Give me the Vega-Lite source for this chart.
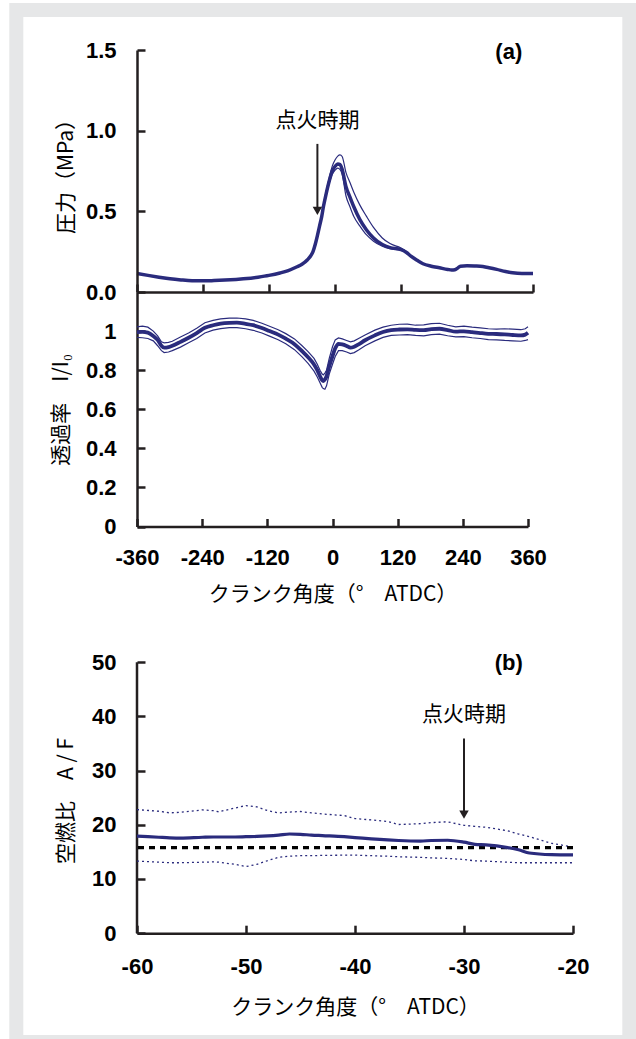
{
  "$schema": "https://vega.github.io/schema/vega-lite/v6.json",
  "background": "white",
  "padding": {"left": 9, "top": 3, "right": 0, "bottom": 0},
  "bounds": "flush",
  "spacing": 0,
  "config": {
    "view": {"stroke": null},
    "locale": {"number": {"decimal": ".", "thousands": ",", "grouping": [3], "currency": ["$", ""], "minus": "-"}},
    "axis": {
      "grid": false,
      "labelFlush": false,
      "labelOverlap": false,
      "domainColor": "#231f20",
      "domainWidth": 2.5,
      "tickColor": "#231f20",
      "tickWidth": 2.5,
      "tickSize": -8,
      "labelFont": "Liberation Sans",
      "labelFontWeight": "bold",
      "labelFontSize": 22,
      "labelColor": "#000000",
      "labelPadding": 29,
      "titleFont": "Noto Sans CJK JP",
      "titleFontWeight": "normal",
      "titleFontSize": 21,
      "titleColor": "#000000"
    }
  },
  "datasets": {
    "pressure": [
      {"deg": -360, "mean": 0.115, "upper": 0.115, "lower": 0.115},
      {"deg": -340, "mean": 0.103, "upper": 0.103, "lower": 0.103},
      {"deg": -320, "mean": 0.092, "upper": 0.092, "lower": 0.092},
      {"deg": -300, "mean": 0.082, "upper": 0.082, "lower": 0.082},
      {"deg": -280, "mean": 0.075, "upper": 0.075, "lower": 0.075},
      {"deg": -260, "mean": 0.07, "upper": 0.07, "lower": 0.07},
      {"deg": -240, "mean": 0.069, "upper": 0.069, "lower": 0.069},
      {"deg": -220, "mean": 0.071, "upper": 0.071, "lower": 0.071},
      {"deg": -200, "mean": 0.074, "upper": 0.074, "lower": 0.074},
      {"deg": -180, "mean": 0.078, "upper": 0.078, "lower": 0.078},
      {"deg": -160, "mean": 0.083, "upper": 0.083, "lower": 0.083},
      {"deg": -140, "mean": 0.092, "upper": 0.092, "lower": 0.092},
      {"deg": -120, "mean": 0.103, "upper": 0.103, "lower": 0.103},
      {"deg": -100, "mean": 0.118, "upper": 0.118, "lower": 0.118},
      {"deg": -85, "mean": 0.133, "upper": 0.133, "lower": 0.133},
      {"deg": -70, "mean": 0.155, "upper": 0.155, "lower": 0.155},
      {"deg": -60, "mean": 0.172, "upper": 0.172, "lower": 0.172},
      {"deg": -50, "mean": 0.2, "upper": 0.2, "lower": 0.2},
      {"deg": -44, "mean": 0.225, "upper": 0.225, "lower": 0.225},
      {"deg": -40, "mean": 0.25, "upper": 0.25, "lower": 0.25},
      {"deg": -36, "mean": 0.294, "upper": 0.294, "lower": 0.294},
      {"deg": -32, "mean": 0.35, "upper": 0.35, "lower": 0.35},
      {"deg": -28, "mean": 0.41, "upper": 0.41, "lower": 0.41},
      {"deg": -24, "mean": 0.47, "upper": 0.475, "lower": 0.465},
      {"deg": -21, "mean": 0.53, "upper": 0.54, "lower": 0.52},
      {"deg": -16, "mean": 0.61, "upper": 0.625, "lower": 0.6},
      {"deg": -10, "mean": 0.694, "upper": 0.715, "lower": 0.68},
      {"deg": -5, "mean": 0.75, "upper": 0.78, "lower": 0.73},
      {"deg": 0, "mean": 0.778, "upper": 0.818, "lower": 0.755},
      {"deg": 5, "mean": 0.794, "upper": 0.842, "lower": 0.768},
      {"deg": 9, "mean": 0.79, "upper": 0.85, "lower": 0.76},
      {"deg": 13, "mean": 0.76, "upper": 0.84, "lower": 0.73},
      {"deg": 20, "mean": 0.653, "upper": 0.74, "lower": 0.595},
      {"deg": 27, "mean": 0.59, "upper": 0.68, "lower": 0.53},
      {"deg": 34, "mean": 0.53, "upper": 0.62, "lower": 0.47},
      {"deg": 45, "mean": 0.45, "upper": 0.54, "lower": 0.41},
      {"deg": 57, "mean": 0.386, "upper": 0.47, "lower": 0.355},
      {"deg": 70, "mean": 0.335, "upper": 0.4, "lower": 0.315},
      {"deg": 86, "mean": 0.294, "upper": 0.335, "lower": 0.284},
      {"deg": 100, "mean": 0.275, "upper": 0.3, "lower": 0.268},
      {"deg": 120, "mean": 0.263, "upper": 0.273, "lower": 0.259},
      {"deg": 130, "mean": 0.245, "upper": 0.25, "lower": 0.243},
      {"deg": 138, "mean": 0.222, "upper": 0.222, "lower": 0.222},
      {"deg": 150, "mean": 0.195, "upper": 0.195, "lower": 0.195},
      {"deg": 160, "mean": 0.175, "upper": 0.175, "lower": 0.175},
      {"deg": 175, "mean": 0.16, "upper": 0.16, "lower": 0.16},
      {"deg": 190, "mean": 0.15, "upper": 0.15, "lower": 0.15},
      {"deg": 205, "mean": 0.14, "upper": 0.14, "lower": 0.14},
      {"deg": 212, "mean": 0.136, "upper": 0.136, "lower": 0.136},
      {"deg": 218, "mean": 0.138, "upper": 0.138, "lower": 0.138},
      {"deg": 223, "mean": 0.148, "upper": 0.148, "lower": 0.148},
      {"deg": 228, "mean": 0.16, "upper": 0.16, "lower": 0.16},
      {"deg": 240, "mean": 0.162, "upper": 0.162, "lower": 0.162},
      {"deg": 255, "mean": 0.161, "upper": 0.161, "lower": 0.161},
      {"deg": 264, "mean": 0.16, "upper": 0.16, "lower": 0.16},
      {"deg": 280, "mean": 0.15, "upper": 0.15, "lower": 0.15},
      {"deg": 294, "mean": 0.14, "upper": 0.14, "lower": 0.14},
      {"deg": 310, "mean": 0.127, "upper": 0.127, "lower": 0.127},
      {"deg": 323, "mean": 0.119, "upper": 0.119, "lower": 0.119},
      {"deg": 340, "mean": 0.115, "upper": 0.115, "lower": 0.115},
      {"deg": 360, "mean": 0.115, "upper": 0.115, "lower": 0.115}
    ],
    "trans": [
      {"deg": -360, "mean": 0.995, "upper": 1.022, "lower": 0.968},
      {"deg": -350, "mean": 0.996, "upper": 1.025, "lower": 0.966},
      {"deg": -340, "mean": 0.992, "upper": 1.02, "lower": 0.962},
      {"deg": -330, "mean": 0.975, "upper": 1.0, "lower": 0.95},
      {"deg": -322, "mean": 0.955, "upper": 0.975, "lower": 0.925},
      {"deg": -315, "mean": 0.925, "upper": 0.945, "lower": 0.9},
      {"deg": -310, "mean": 0.915, "upper": 0.94, "lower": 0.89},
      {"deg": -302, "mean": 0.918, "upper": 0.942, "lower": 0.893},
      {"deg": -295, "mean": 0.925, "upper": 0.948, "lower": 0.9},
      {"deg": -280, "mean": 0.945, "upper": 0.97, "lower": 0.918},
      {"deg": -265, "mean": 0.966, "upper": 0.99, "lower": 0.94},
      {"deg": -250, "mean": 0.99, "upper": 1.015, "lower": 0.962},
      {"deg": -235, "mean": 1.017, "upper": 1.043, "lower": 0.99},
      {"deg": -220, "mean": 1.03, "upper": 1.055, "lower": 1.005},
      {"deg": -206, "mean": 1.038, "upper": 1.062, "lower": 1.013},
      {"deg": -190, "mean": 1.042, "upper": 1.066, "lower": 1.018},
      {"deg": -176, "mean": 1.043, "upper": 1.067, "lower": 1.018},
      {"deg": -160, "mean": 1.037, "upper": 1.062, "lower": 1.012},
      {"deg": -146, "mean": 1.03, "upper": 1.055, "lower": 1.004},
      {"deg": -130, "mean": 1.016, "upper": 1.04, "lower": 0.99},
      {"deg": -116, "mean": 1.0, "upper": 1.025, "lower": 0.974},
      {"deg": -100, "mean": 0.982, "upper": 1.007, "lower": 0.956},
      {"deg": -86, "mean": 0.961, "upper": 0.987, "lower": 0.935},
      {"deg": -70, "mean": 0.933, "upper": 0.96, "lower": 0.905},
      {"deg": -56, "mean": 0.897, "upper": 0.925, "lower": 0.868},
      {"deg": -45, "mean": 0.866, "upper": 0.895, "lower": 0.835},
      {"deg": -34, "mean": 0.829, "upper": 0.86, "lower": 0.795},
      {"deg": -28, "mean": 0.8, "upper": 0.83, "lower": 0.765},
      {"deg": -23, "mean": 0.769, "upper": 0.8, "lower": 0.735},
      {"deg": -19, "mean": 0.748, "upper": 0.78, "lower": 0.712},
      {"deg": -17, "mean": 0.744, "upper": 0.776, "lower": 0.706},
      {"deg": -14, "mean": 0.752, "upper": 0.785, "lower": 0.702},
      {"deg": -11, "mean": 0.769, "upper": 0.8, "lower": 0.72},
      {"deg": -6, "mean": 0.82, "upper": 0.86, "lower": 0.78},
      {"deg": 0, "mean": 0.872, "upper": 0.92, "lower": 0.83},
      {"deg": 5, "mean": 0.912, "upper": 0.955, "lower": 0.87},
      {"deg": 11, "mean": 0.935, "upper": 0.965, "lower": 0.9},
      {"deg": 18, "mean": 0.932, "upper": 0.96, "lower": 0.9},
      {"deg": 26, "mean": 0.924, "upper": 0.952, "lower": 0.893},
      {"deg": 33, "mean": 0.915, "upper": 0.945, "lower": 0.885},
      {"deg": 40, "mean": 0.92, "upper": 0.95, "lower": 0.89},
      {"deg": 48, "mean": 0.932, "upper": 0.962, "lower": 0.903},
      {"deg": 60, "mean": 0.953, "upper": 0.98, "lower": 0.925},
      {"deg": 78, "mean": 0.978, "upper": 1.005, "lower": 0.95},
      {"deg": 93, "mean": 0.995, "upper": 1.02, "lower": 0.968},
      {"deg": 108, "mean": 1.005, "upper": 1.03, "lower": 0.978},
      {"deg": 123, "mean": 1.008, "upper": 1.035, "lower": 0.98},
      {"deg": 138, "mean": 1.009, "upper": 1.036, "lower": 0.982},
      {"deg": 153, "mean": 1.006, "upper": 1.03, "lower": 0.978},
      {"deg": 168, "mean": 1.005, "upper": 1.032, "lower": 0.976},
      {"deg": 182, "mean": 1.01, "upper": 1.038, "lower": 0.982},
      {"deg": 197, "mean": 1.012, "upper": 1.04, "lower": 0.984},
      {"deg": 212, "mean": 1.005, "upper": 1.03, "lower": 0.976},
      {"deg": 227, "mean": 0.997, "upper": 1.022, "lower": 0.97},
      {"deg": 242, "mean": 0.999, "upper": 1.025, "lower": 0.972},
      {"deg": 257, "mean": 0.995, "upper": 1.02, "lower": 0.966},
      {"deg": 272, "mean": 0.99, "upper": 1.016, "lower": 0.962},
      {"deg": 287, "mean": 0.986, "upper": 1.012, "lower": 0.956},
      {"deg": 302, "mean": 0.985, "upper": 1.01, "lower": 0.955},
      {"deg": 317, "mean": 0.983, "upper": 1.012, "lower": 0.952},
      {"deg": 332, "mean": 0.98, "upper": 1.01, "lower": 0.95},
      {"deg": 347, "mean": 0.978, "upper": 1.007, "lower": 0.948},
      {"deg": 355, "mean": 0.982, "upper": 1.012, "lower": 0.952},
      {"deg": 360, "mean": 0.991, "upper": 1.022, "lower": 0.956}
    ],
    "af": [
      {"deg": -60, "mean": 17.9, "upper": 22.8, "lower": 13.3},
      {"deg": -58, "mean": 17.7, "upper": 22.5, "lower": 13.1},
      {"deg": -57, "mean": 17.6, "upper": 22.2, "lower": 13.0},
      {"deg": -56, "mean": 17.55, "upper": 22.3, "lower": 13.0},
      {"deg": -54, "mean": 17.7, "upper": 22.75, "lower": 13.1},
      {"deg": -53, "mean": 17.75, "upper": 22.6, "lower": 13.15},
      {"deg": -52.5, "mean": 17.75, "upper": 22.4, "lower": 13.1},
      {"deg": -51, "mean": 17.75, "upper": 23.1, "lower": 12.7},
      {"deg": -50, "mean": 17.8, "upper": 23.55, "lower": 12.3},
      {"deg": -49, "mean": 17.85, "upper": 23.3, "lower": 12.7},
      {"deg": -48, "mean": 17.95, "upper": 22.6, "lower": 13.4},
      {"deg": -47, "mean": 18.1, "upper": 22.2, "lower": 14.0},
      {"deg": -46, "mean": 18.3, "upper": 22.35, "lower": 14.2},
      {"deg": -45, "mean": 18.25, "upper": 22.45, "lower": 14.3},
      {"deg": -44, "mean": 18.1, "upper": 22.2, "lower": 14.3},
      {"deg": -43, "mean": 18.0, "upper": 22.0, "lower": 14.35},
      {"deg": -41, "mean": 17.8, "upper": 21.7, "lower": 14.4},
      {"deg": -40, "mean": 17.65, "upper": 21.15, "lower": 14.4},
      {"deg": -38.5, "mean": 17.4, "upper": 20.9, "lower": 14.3},
      {"deg": -37, "mean": 17.2, "upper": 20.6, "lower": 14.2},
      {"deg": -36, "mean": 17.1, "upper": 20.05, "lower": 14.1},
      {"deg": -34, "mean": 17.0, "upper": 20.2, "lower": 14.0},
      {"deg": -33, "mean": 17.1, "upper": 20.4, "lower": 13.9},
      {"deg": -31.5, "mean": 17.15, "upper": 20.55, "lower": 13.8},
      {"deg": -30, "mean": 16.8, "upper": 19.9, "lower": 13.6},
      {"deg": -29, "mean": 16.4, "upper": 19.7, "lower": 13.35},
      {"deg": -28, "mean": 16.3, "upper": 19.55, "lower": 13.3},
      {"deg": -26, "mean": 15.8, "upper": 18.9, "lower": 13.1},
      {"deg": -25, "mean": 15.4, "upper": 18.3, "lower": 13.0},
      {"deg": -24, "mean": 14.8, "upper": 17.8, "lower": 13.0},
      {"deg": -22, "mean": 14.5, "upper": 16.6, "lower": 13.0},
      {"deg": -20, "mean": 14.45, "upper": 15.9, "lower": 13.0}
    ]
  },
  "vconcat": [
    {
      "width": 396,
      "height": 242,
      "layer": [
        {
          "data": {"values": [{"part": "frame"}]},
          "mark": {"type": "rect", "color": "#e6e7e8"},
          "encoding": {
            "x": {"datum": -592.2, "type": "quantitative", "scale": {"domain": [-360, 360], "nice": false, "zero": false}},
            "x2": {"datum": 547.8},
            "y": {"datum": 1.7913, "type": "quantitative", "scale": {"domain": [0, 1.5], "nice": false, "zero": false}},
            "y2": {"datum": -4.63}
          }
        },
        {
          "data": {"values": [{"part": "panel"}]},
          "mark": {"type": "rect", "color": "#ffffff"},
          "encoding": {
            "x": {"datum": -566.7, "type": "quantitative", "scale": {"domain": [-360, 360], "nice": false, "zero": false}},
            "x2": {"datum": 522.4},
            "y": {"datum": 1.7045, "type": "quantitative", "scale": {"domain": [0, 1.5], "nice": false, "zero": false}},
            "y2": {"datum": -4.6053}
          }
        },
        {
          "data": {"name": "pressure"},
          "mark": {"type": "line", "color": "#2a2b7d", "strokeWidth": 1.2, "interpolate": "monotone"},
          "encoding": {
            "x": {"field": "deg", "type": "quantitative", "scale": {"domain": [-360, 360], "nice": false, "zero": false}},
            "y": {"field": "upper", "type": "quantitative", "scale": {"domain": [0, 1.5], "nice": false, "zero": false}}
          }
        },
        {
          "data": {"name": "pressure"},
          "mark": {"type": "line", "color": "#2a2b7d", "strokeWidth": 1.2, "interpolate": "monotone"},
          "encoding": {
            "x": {"field": "deg", "type": "quantitative", "scale": {"domain": [-360, 360], "nice": false, "zero": false}},
            "y": {"field": "lower", "type": "quantitative", "scale": {"domain": [0, 1.5], "nice": false, "zero": false}}
          }
        },
        {
          "data": {"name": "pressure"},
          "mark": {"type": "line", "color": "#2a2b7d", "strokeWidth": 3.5, "interpolate": "monotone"},
          "encoding": {
            "x": {"field": "deg", "type": "quantitative", "scale": {"domain": [-360, 360], "nice": false, "zero": false},
              "axis": {"values": [-360, -240, -120, 0, 120, 240, 360], "labels": false, "title": null, "zindex": 1}},
            "y": {"field": "mean", "type": "quantitative", "scale": {"domain": [0, 1.5], "nice": false, "zero": false},
              "axis": {"values": [0, 0.5, 1, 1.5], "format": ".1f", "title": "圧力（MPa）", "titlePadding": 9, "titleY": 121, "zindex": 1}}
          }
        },
        {
          "data": {"values": [{"deg": -32, "top": 0.918, "end": 0.51, "head": 0.503, "labelY": 1.063, "label": "点火時期"}]},
          "layer": [
            {
              "mark": {"type": "rule", "color": "#231f20", "strokeWidth": 2},
              "encoding": {
                "x": {"field": "deg", "type": "quantitative"},
                "y": {"field": "top", "type": "quantitative"},
                "y2": {"field": "end"}
              }
            },
            {
              "mark": {"type": "point", "shape": "triangle-down", "filled": true, "color": "#231f20", "size": 90, "opacity": 1},
              "encoding": {
                "x": {"field": "deg", "type": "quantitative"},
                "y": {"field": "head", "type": "quantitative"}
              }
            },
            {
              "mark": {"type": "text", "font": "Noto Sans CJK JP", "fontSize": 21, "color": "#000000", "align": "center", "baseline": "middle"},
              "encoding": {
                "x": {"field": "deg", "type": "quantitative"},
                "y": {"field": "labelY", "type": "quantitative"},
                "text": {"field": "label"}
              }
            }
          ]
        },
        {
          "data": {"values": [{"deg": 316, "y": 1.49, "label": "(a)"}]},
          "mark": {"type": "text", "font": "Liberation Sans", "fontWeight": "bold", "fontSize": 22, "color": "#000000", "align": "center", "baseline": "middle"},
          "encoding": {
            "x": {"field": "deg", "type": "quantitative"},
            "y": {"field": "y", "type": "quantitative"},
            "text": {"field": "label"}
          }
        }
      ]
    },
    {
      "width": 391,
      "height": 234.5,
      "data": {"name": "trans"},
      "layer": [
        {
          "mark": {"type": "line", "color": "#2a2b7d", "strokeWidth": 1.2},
          "encoding": {
            "x": {"field": "deg", "type": "quantitative", "scale": {"domain": [-360, 360], "nice": false, "zero": false}},
            "y": {"field": "upper", "type": "quantitative", "scale": {"domain": [0, 1.2], "nice": false, "zero": false}}
          }
        },
        {
          "mark": {"type": "line", "color": "#2a2b7d", "strokeWidth": 1.2},
          "encoding": {
            "x": {"field": "deg", "type": "quantitative", "scale": {"domain": [-360, 360], "nice": false, "zero": false}},
            "y": {"field": "lower", "type": "quantitative", "scale": {"domain": [0, 1.2], "nice": false, "zero": false}}
          }
        },
        {
          "mark": {"type": "line", "color": "#2a2b7d", "strokeWidth": 3.8, "interpolate": "monotone"},
          "encoding": {
            "x": {"field": "deg", "type": "quantitative", "scale": {"domain": [-360, 360], "nice": false, "zero": false},
              "axis": {"values": [-360, -240, -120, 0, 120, 240, 360], "format": "d", "title": "クランク角度（°　ATDC）", "titlePadding": 15}},
            "y": {"field": "mean", "type": "quantitative", "scale": {"domain": [0, 1.2], "nice": false, "zero": false},
              "axis": {"values": [0, 0.2, 0.4, 0.6, 0.8, 1], "format": "~g", "title": "透過率　I/I₀", "titlePadding": 14}}
          }
        }
      ]
    },
    {
      "width": 436,
      "height": 406.2,
      "layer": [
        {
          "data": {"values": [{"part": "axis"}]},
          "mark": {"type": "rule", "color": "#231f20", "strokeWidth": 2.5},
          "encoding": {
            "x": {"datum": -60, "type": "quantitative", "scale": {"domain": [-60, -20], "nice": false, "zero": false}},
            "y": {"datum": 0, "type": "quantitative", "scale": {"domain": [0, 74.94], "nice": false, "zero": false}},
            "y2": {"datum": 50}
          }
        },
        {
          "data": {"name": "af"},
          "mark": {"type": "line", "color": "#2a2b7d", "strokeWidth": 1.3, "strokeDash": [2, 3]},
          "encoding": {
            "x": {"field": "deg", "type": "quantitative", "scale": {"domain": [-60, -20], "nice": false, "zero": false}},
            "y": {"field": "upper", "type": "quantitative", "scale": {"domain": [0, 74.94], "nice": false, "zero": false}}
          }
        },
        {
          "data": {"name": "af"},
          "mark": {"type": "line", "color": "#2a2b7d", "strokeWidth": 1.3, "strokeDash": [2, 3]},
          "encoding": {
            "x": {"field": "deg", "type": "quantitative", "scale": {"domain": [-60, -20], "nice": false, "zero": false}},
            "y": {"field": "lower", "type": "quantitative", "scale": {"domain": [0, 74.94], "nice": false, "zero": false}}
          }
        },
        {
          "data": {"values": [{"part": "stoich"}]},
          "mark": {"type": "rule", "color": "#000000", "strokeWidth": 3.3, "strokeDash": [6, 5]},
          "encoding": {
            "y": {"datum": 15.8, "type": "quantitative", "scale": {"domain": [0, 74.94], "nice": false, "zero": false}}
          }
        },
        {
          "data": {"name": "af"},
          "mark": {"type": "line", "color": "#2a2b7d", "strokeWidth": 3.2, "interpolate": "monotone"},
          "encoding": {
            "x": {"field": "deg", "type": "quantitative", "scale": {"domain": [-60, -20], "nice": false, "zero": false},
              "axis": {"values": [-60, -50, -40, -30, -20], "format": "d", "title": "クランク角度（°　ATDC）", "labelPadding": 31, "titlePadding": 19}},
            "y": {"field": "mean", "type": "quantitative", "scale": {"domain": [0, 74.94], "nice": false, "zero": false},
              "axis": {"values": [0, 10, 20, 30, 40, 50], "format": "d", "domain": false, "title": "空燃比　A / F", "titlePadding": 15, "titleY": 273.5}}
          }
        },
        {
          "data": {"values": [{"deg": -30, "top": 35.9, "end": 22.3, "head": 21.86, "labelY": 40.3, "label": "点火時期"}]},
          "layer": [
            {
              "mark": {"type": "rule", "color": "#231f20", "strokeWidth": 2},
              "encoding": {
                "x": {"field": "deg", "type": "quantitative"},
                "y": {"field": "top", "type": "quantitative"},
                "y2": {"field": "end"}
              }
            },
            {
              "mark": {"type": "point", "shape": "triangle-down", "filled": true, "color": "#231f20", "size": 90, "opacity": 1},
              "encoding": {
                "x": {"field": "deg", "type": "quantitative"},
                "y": {"field": "head", "type": "quantitative"}
              }
            },
            {
              "mark": {"type": "text", "font": "Noto Sans CJK JP", "fontSize": 21, "color": "#000000", "align": "center", "baseline": "middle"},
              "encoding": {
                "x": {"field": "deg", "type": "quantitative"},
                "y": {"field": "labelY", "type": "quantitative"},
                "text": {"field": "label"}
              }
            }
          ]
        },
        {
          "data": {"values": [{"deg": -25.9, "y": 49.8, "label": "(b)"}]},
          "mark": {"type": "text", "font": "Liberation Sans", "fontWeight": "bold", "fontSize": 22, "color": "#000000", "align": "center", "baseline": "middle"},
          "encoding": {
            "x": {"field": "deg", "type": "quantitative"},
            "y": {"field": "y", "type": "quantitative"},
            "text": {"field": "label"}
          }
        }
      ]
    }
  ]
}
